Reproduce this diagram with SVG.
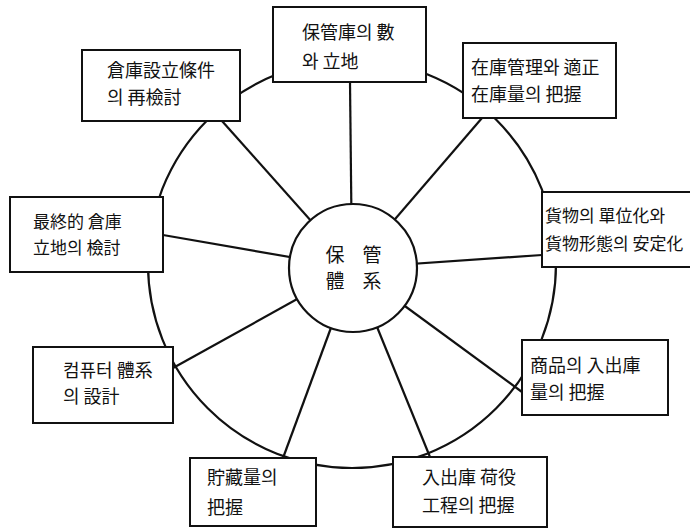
<svg xmlns="http://www.w3.org/2000/svg" width="690" height="531" viewBox="0 0 690 531">
<style>
.ln{stroke:#111;stroke-width:2.2;fill:none}
.bx{fill:#fff;stroke:#111;stroke-width:2}
.t{font-family:"Noto Sans CJK KR","Noto Sans CJK JP",sans-serif;font-size:18px;fill:#111}
.s{font-size:17px}
.c{font-family:"Noto Sans CJK KR","Noto Sans CJK JP",sans-serif;font-size:19px;fill:#111;text-anchor:middle}
</style>
<rect width="690" height="531" fill="#fff"/>
<g id="connectors">
<circle class="ln" cx="352" cy="264" r="204"/>
<line class="ln" x1="350" y1="82" x2="352" y2="268"/>
<line class="ln" x1="482" y1="118" x2="353" y2="268"/>
<line class="ln" x1="542" y1="255" x2="353" y2="268"/>
<line class="ln" x1="522" y1="392" x2="353" y2="268"/>
<line class="ln" x1="430" y1="457" x2="353" y2="268"/>
<line class="ln" x1="283" y1="458" x2="353" y2="268"/>
<line class="ln" x1="173" y1="368" x2="353" y2="268"/>
<line class="ln" x1="163" y1="235" x2="353" y2="268"/>
<line class="ln" x1="222" y1="121" x2="353" y2="268"/>
</g>
<g id="center">
<circle cx="353" cy="268" r="64" fill="#fff" stroke="#111" stroke-width="2.2"/>
<text class="c" x="335" y="262">保</text>
<text class="c" x="372" y="262">管</text>
<text class="c" x="335" y="288">體</text>
<text class="c" x="372" y="288">系</text>
</g>
<g id="n1">
<rect class="bx" x="273" y="7" width="153" height="75"/>
<text class="t" x="302" y="39">保管庫의 數</text>
<text class="t" x="302" y="68">와 立地</text>
</g>
<g id="n2">
<rect class="bx" x="463" y="43" width="153" height="75"/>
<text class="t" x="471" y="74">在庫管理와 適正</text>
<text class="t" x="471" y="101">在庫量의 把握</text>
</g>
<g id="n3">
<rect class="bx" x="542" y="192" width="160" height="75"/>
<text class="t s" x="545" y="222">貨物의 單位化와</text>
<text class="t s" x="545" y="250">貨物形態의 安定化</text>
</g>
<g id="n4">
<rect class="bx" x="522" y="340" width="146" height="75"/>
<text class="t" x="530" y="372">商品의 入出庫</text>
<text class="t" x="530" y="399">量의 把握</text>
</g>
<g id="n5">
<rect class="bx" x="393" y="457" width="154" height="70"/>
<text class="t" x="422" y="484">入出庫 荷役</text>
<text class="t" x="422" y="512">工程의 把握</text>
</g>
<g id="n6">
<rect class="bx" x="190" y="458" width="126" height="68"/>
<text class="t" x="207" y="484">貯藏量의</text>
<text class="t" x="207" y="514">把握</text>
</g>
<g id="n7">
<rect class="bx" x="33" y="347" width="140" height="76"/>
<text class="t" x="63" y="377">컴퓨터 體系</text>
<text class="t" x="63" y="403">의 設計</text>
</g>
<g id="n8">
<rect class="bx" x="10" y="197" width="153" height="75"/>
<text class="t s" x="33" y="228">最終的 倉庫</text>
<text class="t s" x="33" y="254">立地의 檢討</text>
</g>
<g id="n9">
<rect class="bx" x="82" y="50" width="158" height="71"/>
<text class="t" x="107" y="77">倉庫設立條件</text>
<text class="t" x="107" y="104">의 再檢討</text>
</g>
</svg>
